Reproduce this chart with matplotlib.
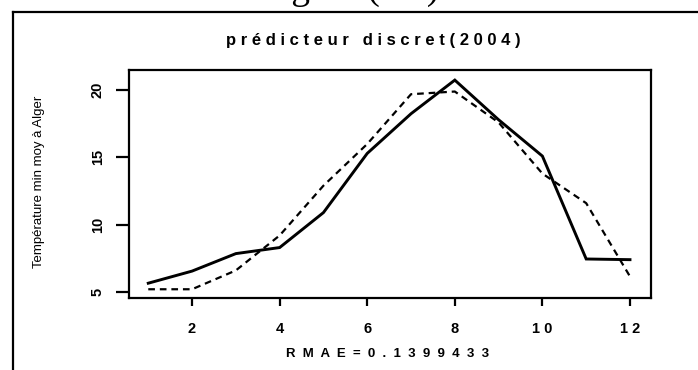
import matplotlib
matplotlib.use("Agg")
import matplotlib.pyplot as plt
from matplotlib.lines import Line2D

months = [1, 2, 3, 4, 5, 6, 7, 8, 9, 10, 11, 12]
observed = [5.65, 6.55, 7.85, 8.3, 10.9, 15.3, 18.25, 20.75, 17.8, 15.1, 7.45, 7.4]
predicted = [5.2, 5.2, 6.6, 9.2, 12.9, 16.0, 19.7, 19.9, 17.6, 13.8, 11.6, 6.15]

xticks = [2, 4, 6, 8, 10, 12]
xtick_labels = ["2", "4", "6", "8", "1 0", "1 2"]
yticks = [5, 10, 15, 20]

title = "p r é d i c t e u r   d i s c r e t ( 2 0 0 4 )"
xlabel = "R  M  A  E  =  0  .  1  3  9  9  4  3  3"
ylabel = "Température min moy à Alger"

W, H = 698, 370
fig = plt.figure(figsize=(W / 100, H / 100), dpi=100)

# scanned page frame + cut-off caption
fig.add_artist(Line2D([13 / W, 1], [1 - 11.5 / H, 1 - 11.5 / H], color="black", lw=1.6))
fig.add_artist(Line2D([13 / W, 13 / W], [0, 1 - 11.5 / H], color="black", lw=1.6))
fig.text(350 / W, 1 + 1 / H, "Figure (2.6)", family="Liberation Serif",
         fontsize=27, ha="center", va="baseline")

ax = fig.add_axes([129 / W, 1 - 298 / H, (651 - 129) / W, (298 - 70) / H])
ax.plot(months, observed, color="black", lw=2.1, solid_joinstyle="miter")
ax.plot(months, predicted, color="black", lw=1.6, ls=(0, (3, 2.2)))

ax.set_xlim(0.56, 12.48)
ax.set_ylim(4.55, 21.5)
ax.set_xticks(xticks)
ax.set_xticklabels(xtick_labels)
ax.set_yticks(yticks)
ax.set_yticklabels([str(v) for v in yticks], rotation=90, va="center")

for s in ax.spines.values():
    s.set_linewidth(1.6)
ax.tick_params(axis="x", direction="out", length=6, width=1.6, pad=11, labelsize=10.5)
ax.tick_params(axis="y", direction="out", length=9.5, width=1.6, pad=8, labelsize=10.5)
for lab in ax.get_xticklabels() + ax.get_yticklabels():
    lab.set_family("Liberation Sans")
    lab.set_fontweight("bold")

fig.text(373 / W, 1 - 40 / H, title, family="Liberation Sans", fontweight="bold",
         fontsize=12, ha="center", va="center")
fig.text(388 / W, 1 - 354 / H, xlabel, family="Liberation Sans", fontweight="bold",
         fontsize=9.5, ha="center", va="center")
fig.text(39 / W, 1 - 182 / H, ylabel, family="Liberation Sans", fontsize=9.5,
         rotation=90, ha="center", va="center")

fig.savefig("out.png", dpi=100)
